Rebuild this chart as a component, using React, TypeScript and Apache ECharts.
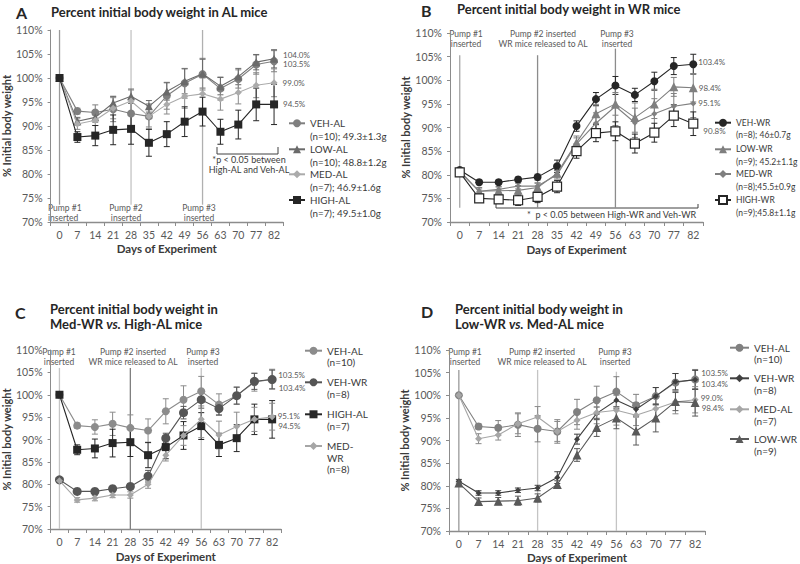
import React, { useEffect, useRef } from "react";
import * as echarts from "echarts";

// ---------------- data ----------------
const DAYS = [0, 7, 14, 21, 28, 35, 42, 49, 56, 63, 70, 77, 82];
const PUMP_DAYS = [0, 28, 56];
const Y_MIN = 70;
const Y_MAX = 110;
const Y_STEP = 5;

const VEH_AL = [100, 93.1, 92.8, 93.5, 92.6, 92.0, 96.3, 98.9, 100.8, 97.8, 99.8, 102.8, 103.5];
const LOW_AL = [100, 91.0, 91.8, 94.8, 96.2, 94.1, 97.2, 99.3, 100.9, 98.3, 100.3, 103.3, 104.0];
const MED_AL = [100, 90.4, 91.2, 93.7, 95.2, 92.0, 94.5, 96.2, 96.7, 95.6, 97.0, 98.5, 99.0];
const HIGH_AL = [100, 87.7, 88.0, 89.2, 89.4, 86.5, 88.3, 90.9, 93.0, 88.8, 90.3, 94.5, 94.5];
const VEH_WR = [81.0, 78.4, 78.4, 79.0, 79.5, 81.8, 90.3, 96.0, 98.9, 96.9, 99.8, 103.0, 103.4];
const LOW_WR = [80.6, 76.5, 76.6, 76.7, 77.3, 80.3, 86.8, 92.9, 95.0, 92.1, 95.0, 98.6, 98.4];
const MED_WR = [80.8, 76.5, 76.9, 77.6, 77.6, 80.0, 86.5, 90.9, 94.5, 91.0, 92.9, 94.5, 95.1];
const HIGH_WR = [80.5, 75.0, 74.8, 74.6, 75.3, 77.5, 85.0, 88.8, 89.2, 86.6, 88.9, 92.5, 90.8];

const VEH_AL_ERR = [0, 0.6, 1.6, 2.6, 2.9, 2.6, 2.8, 3.1, 3.3, 2.4, 1.9, 2.0, 2.2];
const LOW_AL_ERR = [0, 0.8, 1.0, 1.4, 1.5, 1.2, 1.8, 2.6, 3.0, 1.8, 1.7, 1.6, 1.9];
const MED_AL_ERR = [0, 1.1, 1.1, 2.2, 2.3, 2.2, 2.0, 2.5, 3.3, 2.3, 2.4, 2.6, 2.9];
const HIGH_AL_ERR = [0, 1.1, 2.1, 3.1, 3.2, 2.8, 2.6, 3.1, 3.0, 2.6, 3.0, 3.4, 4.2];
const VEH_WR_ERR = [0.4, 0.5, 0.5, 0.5, 0.6, 1.3, 1.1, 1.4, 1.9, 1.4, 1.9, 1.8, 2.1];
const LOW_WR_ERR = [0.4, 0.8, 0.8, 1.0, 0.9, 0.8, 1.4, 2.0, 2.4, 3.1, 3.1, 2.0, 3.0];
const MED_WR_ERR = [0.4, 0.5, 0.6, 0.6, 0.7, 0.9, 1.3, 2.2, 4.1, 3.1, 3.2, 2.7, 3.0];
const HIGH_WR_ERR = [0.4, 0.6, 0.8, 1.1, 1.2, 1.3, 1.5, 1.8, 2.0, 2.0, 2.0, 2.3, 2.5];

// ---------------- styles ----------------
const FONT = "Lato, 'Open Sans', sans-serif";
const TXT = "#3a3a3a";
const TICK = "#595959";
const AXIS = "#8c8c8c";

type S = {
  id: string;
  label: string[];
  data: number[];
  err: number[];
  color: string;
  fill?: string;
  symbol: string;
  size: number;
  dy: number;
  dist: number;
};
type Panel = {
  letter: string;
  letterPos: [number, number];
  title: string;
  titlePos: [number, number];
  grid: { left: number; top: number; width: number; height: number };
  yNameGap: number;
  xNameGap: number;
  lines: { top: number; bottom: number; color: string }[];
  series: S[];
  legend: { left: number; firsts: number[]; iconW: number; fontSize: number; lh: number };
  pumpLabels: { x: number; y: number; text: string; align: string }[];
  bracket?: { pts: number[][]; text: string; x: number; y: number; align: string; lh: number };
};

const PANELS: Panel[] = [
  {
    letter: "A",
    letterPos: [16, 12],
    title: "{b|Percent initial body weight in AL mice}",
    titlePos: [51, 12],
    grid: { left: 44, top: 30, width: 239, height: 192 },
    yNameGap: 29,
    xNameGap: 20,
    lines: [
      { top: 110, bottom: 73.6, color: "#9a9a9a" },
      { top: 110, bottom: 73.6, color: "#c4c4c4" },
      { top: 110, bottom: 73.6, color: "#b0b0b0" },
    ],
    series: [
      { id: "A:VEH-AL", label: ["VEH-AL", "(n=10); 49.3±1.3g"], data: VEH_AL, err: VEH_AL_ERR, color: "#7f7f7f", symbol: "circle", size: 8, dy: 3, dist: 5 },
      { id: "A:LOW-AL", label: ["LOW-AL", "(n=10); 48.8±1.2g"], data: LOW_AL, err: LOW_AL_ERR, color: "#6a6a6a", symbol: "triangle", size: 8, dy: -4, dist: 5 },
      { id: "A:MED-AL", label: ["MED-AL", "(n=7); 46.9±1.6g"], data: MED_AL, err: MED_AL_ERR, color: "#ababab", symbol: "diamond", size: 7, dy: 0, dist: 5 },
      { id: "A:HIGH-AL", label: ["HIGH-AL", "(n=7); 49.5±1.0g"], data: HIGH_AL, err: HIGH_AL_ERR, color: "#262626", symbol: "rect", size: 8, dy: 0, dist: 5 },
    ],
    legend: { left: 288, firsts: [123.3, 149.3, 174.3, 200], iconW: 16, fontSize: 9.8, lh: 12.5 },
    pumpLabels: [
      { x: 48, y: 203, text: "Pump #1\ninserted", align: "left" },
      { x: 126, y: 203, text: "Pump #2\ninserted", align: "center" },
      { x: 199, y: 203, text: "Pump #3\ninserted", align: "center" },
    ],
    bracket: {
      pts: [[217, 147], [217, 154], [278, 154], [278, 147]],
      text: "*p < 0.05 between\nHigh-AL and Veh-AL",
      x: 249,
      y: 154,
      align: "center",
      lh: 10.5,
    },
  },
  {
    letter: "B",
    letterPos: [421, 10],
    title: "{b|Percent initial body weight in WR mice}",
    titlePos: [457, 8.5],
    grid: { left: 450, top: 33, width: 253, height: 189 },
    yNameGap: 28,
    xNameGap: 21,
    lines: [
      { top: 105.3, bottom: 73, color: "#a6a6a6" },
      { top: 105.3, bottom: 73, color: "#8c8c8c" },
      { top: 106.7, bottom: 73, color: "#8c8c8c" },
    ],
    series: [
      { id: "B:VEH-WR", label: ["VEH-WR", "(n=8); 46±0.7g"], data: VEH_WR, err: VEH_WR_ERR, color: "#262626", symbol: "circle", size: 8, dy: -2, dist: 1 },
      { id: "B:LOW-WR", label: ["LOW-WR", "(n=9); 45.2±1.1g"], data: LOW_WR, err: LOW_WR_ERR, color: "#7f7f7f", symbol: "triangle", size: 9, dy: 0, dist: 1 },
      { id: "B:MED-WR", label: ["MED-WR", "(n=8);45.5±0.9g"], data: MED_WR, err: MED_WR_ERR, color: "#808080", symbol: "diamond", size: 6, dy: 0, dist: 2 },
      { id: "B:HIGH-WR", label: ["HIGH-WR", "(n=9);45.8±1.1g"], data: HIGH_WR, err: HIGH_WR_ERR, color: "#262626", fill: "#ffffff", symbol: "rect", size: 9, dy: 7, dist: 5 },
    ],
    legend: { left: 714, firsts: [122.7, 149.3, 174, 200], iconW: 16, fontSize: 8.5, lh: 12.8 },
    pumpLabels: [
      { x: 466, y: 29, text: "Pump #1\ninserted", align: "center" },
      { x: 543, y: 29, text: "Pump #2 inserted\nWR mice released to AL", align: "center" },
      { x: 617, y: 29, text: "Pump #3\ninserted", align: "center" },
    ],
    bracket: {
      pts: [[496, 204], [496, 208], [698, 208], [698, 204]],
      text: "*  p < 0.05 between High-WR and Veh-WR",
      x: 527,
      y: 209.5,
      align: "left",
      lh: 10,
    },
  },
  {
    letter: "C",
    letterPos: [15, 312],
    title: "{b|Percent initial body weight in}\n{b|Med-WR }{i|vs.}{b| High-AL mice}",
    titlePos: [50, 301],
    grid: { left: 42, top: 350, width: 239, height: 179 },
    yNameGap: 30,
    xNameGap: 21,
    lines: [
      { top: 106, bottom: 70, color: "#c4c4c4" },
      { top: 106, bottom: 70, color: "#7f7f7f" },
      { top: 106, bottom: 70, color: "#c4c4c4" },
    ],
    series: [
      { id: "C:VEH-AL", label: ["VEH-AL", "(n=10)"], data: VEH_AL, err: VEH_AL_ERR, color: "#8c8c8c", symbol: "circle", size: 8, dy: -4, dist: 2 },
      { id: "C:VEH-WR", label: ["VEH-WR", "(n=8)"], data: VEH_WR, err: VEH_WR_ERR, color: "#555555", symbol: "circle", size: 9, dy: 8, dist: 2 },
      { id: "C:HIGH-AL", label: ["HIGH-AL", "(n=7)"], data: HIGH_AL, err: HIGH_AL_ERR, color: "#262626", symbol: "rect", size: 8, dy: 7, dist: 2 },
      { id: "C:MED-WR", label: ["MED-", "WR", "(n=8)"], data: MED_WR, err: MED_WR_ERR, color: "#a6a6a6", symbol: "diamond", size: 7, dy: -1, dist: 2 },
    ],
    legend: { left: 304, firsts: [350.7, 382.3, 414.3, 446], iconW: 17, fontSize: 10, lh: 11.5 },
    pumpLabels: [
      { x: 59, y: 347.5, text: "Pump #1\ninserted", align: "center" },
      { x: 133, y: 347.5, text: "Pump #2 inserted\nWR mice released to AL", align: "center" },
      { x: 203, y: 347.5, text: "Pump #3\ninserted", align: "center" },
    ],
  },
  {
    letter: "D",
    letterPos: [421, 311],
    title: "{b|Percent initial body weight in}\n{b|Low-WR }{i|vs.}{b| Med-AL mice}",
    titlePos: [455, 301],
    grid: { left: 449, top: 350, width: 256, height: 182 },
    yNameGap: 26,
    xNameGap: 20,
    lines: [
      { top: 105.6, bottom: 70, color: "#9a9a9a" },
      { top: 105.6, bottom: 70, color: "#c4c4c4" },
      { top: 105.2, bottom: 70, color: "#c4c4c4" },
    ],
    series: [
      { id: "D:VEH-AL", label: ["VEH-AL", "(n=10)"], data: VEH_AL, err: VEH_AL_ERR, color: "#808080", symbol: "circle", size: 8, dy: -6.5, dist: 2 },
      { id: "D:VEH-WR", label: ["VEH-WR", "(n=8)"], data: VEH_WR, err: VEH_WR_ERR, color: "#404040", symbol: "diamond", size: 6, dy: 4, dist: 3 },
      { id: "D:MED-AL", label: ["MED-AL", "(n=7)"], data: MED_AL, err: MED_AL_ERR, color: "#a6a6a6", symbol: "diamond", size: 7, dy: -2, dist: 2 },
      { id: "D:LOW-WR", label: ["LOW-WR", "(n=9)"], data: LOW_WR, err: LOW_WR_ERR, color: "#595959", symbol: "triangle", size: 9, dy: 6, dist: 2 },
    ],
    legend: { left: 729, firsts: [347.7, 378.3, 409.3, 439], iconW: 19, fontSize: 10, lh: 11.6 },
    pumpLabels: [
      { x: 465, y: 347, text: "Pump #1\ninserted", align: "center" },
      { x: 542, y: 347, text: "Pump #2 inserted\nWR mice released to AL", align: "center" },
      { x: 615, y: 347, text: "Pump #3\ninserted", align: "center" },
    ],
  },
];

function buildOption() {
  const grid: any[] = [];
  const xAxis: any[] = [];
  const yAxis: any[] = [];
  const series: any[] = [];
  const legend: any[] = [];
  const graphic: any[] = [];
  const cats = DAYS.map(String);

  PANELS.forEach((p, pi) => {
    grid.push({ ...p.grid, containLabel: false });
    xAxis.push({
      type: "category",
      gridIndex: pi,
      data: cats,
      boundaryGap: true,
      axisLine: { lineStyle: { color: AXIS, width: 1.3 } },
      axisTick: { show: true, length: 4, lineStyle: { color: AXIS } },
      axisLabel: { color: TICK, fontSize: 10.5, fontFamily: FONT, margin: 7, interval: 0 },
      name: "Days of Experiment",
      nameLocation: "middle",
      nameGap: p.xNameGap,
      nameTextStyle: { color: TXT, fontWeight: "bold", fontSize: 11.5, fontFamily: FONT },
    });
    yAxis.push({
      type: "value",
      gridIndex: pi,
      min: Y_MIN,
      max: Y_MAX,
      interval: Y_STEP,
      axisLine: { show: true, lineStyle: { color: AXIS } },
      axisTick: { show: true, length: 3, lineStyle: { color: AXIS } },
      splitLine: { show: false },
      axisLabel: { formatter: "{value}%", color: TICK, fontSize: 10.5, fontFamily: FONT, margin: 8 },
      name: "% Initial body weight",
      nameLocation: "middle",
      nameRotate: 90,
      nameGap: p.yNameGap,
      nameTextStyle: { color: TXT, fontWeight: "bold", fontSize: 11, fontFamily: FONT },
    });

    // pump vertical lines
    series.push({
      type: "custom",
      xAxisIndex: pi,
      yAxisIndex: pi,
      silent: true,
      z: 1,
      data: PUMP_DAYS.map((d, k) => [DAYS.indexOf(d), p.lines[k].top, p.lines[k].bottom]),
      encode: { x: 0, y: [1, 2] },
      renderItem: (params: any, api: any) => {
        const x = api.value(0);
        const a = api.coord([x, api.value(1)]);
        const b = api.coord([x, api.value(2)]);
        return {
          type: "line",
          shape: { x1: a[0], y1: a[1], x2: b[0], y2: b[1] },
          style: { stroke: p.lines[params.dataIndex].color, lineWidth: 1.3 },
        };
      },
    });

    p.series.forEach((s, si) => {
      const last = s.data.length - 1;
      // error bars
      series.push({
        type: "custom",
        xAxisIndex: pi,
        yAxisIndex: pi,
        silent: true,
        z: 2,
        data: s.data
          .map((v, i) => [i, v - s.err[i], v + s.err[i]])
          .filter((_, i) => s.err[i] > 0),
        encode: { x: 0, y: [1, 2] },
        renderItem: (params: any, api: any) => {
          const x = api.value(0);
          const lo = api.coord([x, api.value(1)]);
          const hi = api.coord([x, api.value(2)]);
          const w = 3;
          const st = { stroke: s.color === "#ababab" || s.color === "#a6a6a6" ? "#8a8a8a" : s.color, lineWidth: 1 };
          return {
            type: "group",
            children: [
              { type: "line", shape: { x1: lo[0], y1: lo[1], x2: hi[0], y2: hi[1] }, style: st },
              { type: "line", shape: { x1: lo[0] - w, y1: lo[1], x2: lo[0] + w, y2: lo[1] }, style: st },
              { type: "line", shape: { x1: hi[0] - w, y1: hi[1], x2: hi[0] + w, y2: hi[1] }, style: st },
            ],
          };
        },
      });
      series.push({
        type: "line",
        name: s.id,
        xAxisIndex: pi,
        yAxisIndex: pi,
        z: 3 + si,
        symbol: s.symbol,
        symbolSize: s.size,
        showAllSymbol: true,
        lineStyle: { color: s.color, width: 1.1 },
        itemStyle: s.fill
          ? { color: s.fill, borderColor: s.color, borderWidth: 1.2 }
          : { color: s.color },
        data: s.data.map((v, i) =>
          i === last
            ? {
                value: v,
                label: {
                  show: true,
                  position: "right",
                  distance: s.dist,
                  offset: [0, s.dy],
                  formatter: (q: any) => Number(q.value).toFixed(1) + "%",
                  color: TICK,
                  fontSize: 8,
                  fontFamily: FONT,
                },
              }
            : v
        ),
      });
      const nLines = s.label.length;
      const pad = nLines - 1;
      const text = "\n".repeat(pad) + s.label.join("\n");
      legend.push({
        data: [s.id],
        left: p.legend.left,
        top: p.legend.firsts[si] - (pad + 0.5) * p.legend.lh,
        orient: "vertical",
        padding: 0,
        itemWidth: p.legend.iconW,
        itemHeight: 10,
        selectedMode: false,
        formatter: () => text,
        textStyle: { color: TXT, fontSize: p.legend.fontSize, lineHeight: p.legend.lh, fontFamily: FONT },
      });
    });

    graphic.push({
      type: "text",
      x: p.letterPos[0],
      y: p.letterPos[1],
      style: { text: p.letter, fontFamily: FONT, fontSize: 16, fontWeight: "bold", fill: "#262626", verticalAlign: "middle", align: "left" },
    });
    const multi = p.title.includes("\n");
    graphic.push({
      type: "text",
      x: p.titlePos[0],
      y: p.titlePos[1],
      style: {
        text: p.title,
        verticalAlign: multi ? "top" : "middle",
        align: "left",
        rich: {
          b: { fontFamily: FONT, fontSize: 13, fontWeight: "bold", fill: "#262626", lineHeight: 15.6 },
          i: { fontFamily: FONT, fontSize: 13, fontWeight: "bold", fontStyle: "italic", fill: "#262626", lineHeight: 15.6 },
        },
      },
    });
    p.pumpLabels.forEach((l) => {
      graphic.push({
        type: "text",
        x: l.x,
        y: l.y,
        style: { text: l.text, fontFamily: FONT, fontSize: 8.5, lineHeight: 9.8, fill: TICK, align: l.align, verticalAlign: "top" },
      });
    });
    if (p.bracket) {
      graphic.push({
        type: "polyline",
        shape: { points: p.bracket.pts },
        style: { stroke: "#404040", lineWidth: 1, fill: null },
      });
      graphic.push({
        type: "text",
        x: p.bracket.x,
        y: p.bracket.y,
        style: { text: p.bracket.text, fontFamily: FONT, fontSize: 9, lineHeight: p.bracket.lh, fill: TXT, align: p.bracket.align, verticalAlign: "top" },
      });
    }
  });

  return {
    animation: false,
    backgroundColor: "#ffffff",
    textStyle: { fontFamily: FONT },
    grid,
    xAxis,
    yAxis,
    series,
    legend,
    graphic,
  };
}

export default function App() {
  const ref = useRef<HTMLDivElement>(null);
  useEffect(() => {
    const chart = echarts.init(ref.current!, null, { renderer: "svg" });
    chart.setOption(buildOption() as any);
    return () => chart.dispose();
  }, []);
  return (
    <div
      ref={ref}
      style={{ position: "absolute", left: 0, top: 0, width: 800, height: 564 }}
    />
  );
}
